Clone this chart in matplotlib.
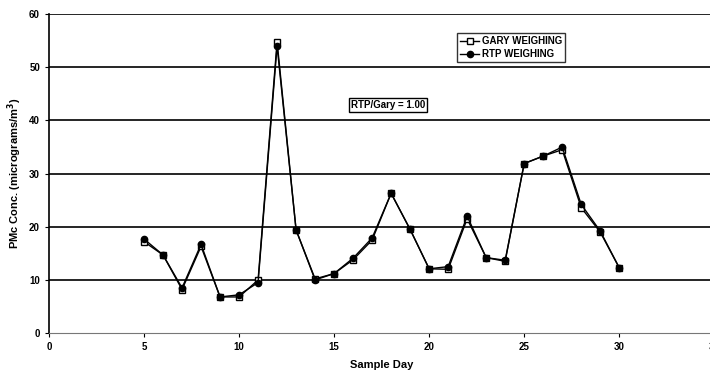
import matplotlib.pyplot as plt

days = [5, 6, 7, 8, 9, 10, 11, 12, 13, 14, 15, 16, 17, 18, 19, 20, 21, 22, 23, 24, 25, 26, 27, 28, 29, 30]
gary = [17.2, 14.7, 8.2, 16.3, 6.8, 6.8, 10.0, 54.8, 19.4, 10.2, 11.2, 13.8, 17.5, 26.3, 19.5, 12.1, 12.0, 21.5, 14.2, 13.5, 31.9, 33.3, 34.5, 23.6, 19.0, 12.3]
rtp = [17.7, 14.7, 8.5, 16.7, 6.8, 7.2, 9.5, 54.0, 19.4, 10.0, 11.2, 14.1, 17.9, 26.3, 19.5, 12.1, 12.5, 22.0, 14.2, 13.7, 31.9, 33.3, 35.0, 24.2, 19.2, 12.3]
xticks = [0, 5, 10, 15, 20, 25, 30, 35]
yticks = [0, 10, 20, 30, 40, 50, 60]

plt.rcParams['font.family'] = ['Liberation Sans', 'DejaVu Sans']
plt.rcParams['font.weight'] = 'bold'

fig = plt.figure(figsize=(7.1, 3.73), dpi=100)
ax = fig.add_axes([0.069, 0.107, 0.937, 0.855])

for y in yticks[1:]:
    ax.axhline(y, color='black', lw=1.2, zorder=1)

ax.plot(days, gary, color='black', lw=1, marker='s', markersize=5,
        markerfacecolor='white', markeredgecolor='black', label='GARY WEIGHING', zorder=3)
ax.plot(days, rtp, color='black', lw=1, marker='o', markersize=4.5,
        markerfacecolor='black', markeredgecolor='black', label='RTP WEIGHING', zorder=4)

ax.set_xlim(0, 35)
ax.set_ylim(0, 60)
ax.set_xticks(xticks)
ax.set_yticks(yticks)
ax.tick_params(labelsize=7, length=3, width=0.8)
for s in ['top', 'right']:
    ax.spines[s].set_visible(False)
ax.spines['left'].set_linewidth(1.2)
ax.spines['bottom'].set_color('#777777')

ax.set_xlabel('Sample Day', fontsize=8, fontweight='bold', labelpad=6)
ax.set_ylabel('PMc Conc. (micrograms/m$^\\mathbf{3}$)', fontsize=8, fontweight='bold')

leg = ax.legend(loc='upper left', bbox_to_anchor=(0.606, 0.955), fontsize=7,
                frameon=True, fancybox=False, edgecolor='black', handlelength=2,
                borderpad=0.3, labelspacing=0.3, handletextpad=0.3)
leg.get_frame().set_linewidth(1)

ax.text(15.9, 42.4, 'RTP/Gary = 1.00', fontsize=7, fontweight='bold',
        bbox=dict(boxstyle='square,pad=0.2', facecolor='white', edgecolor='black', lw=1))

fig.savefig('out.png', dpi=100)
